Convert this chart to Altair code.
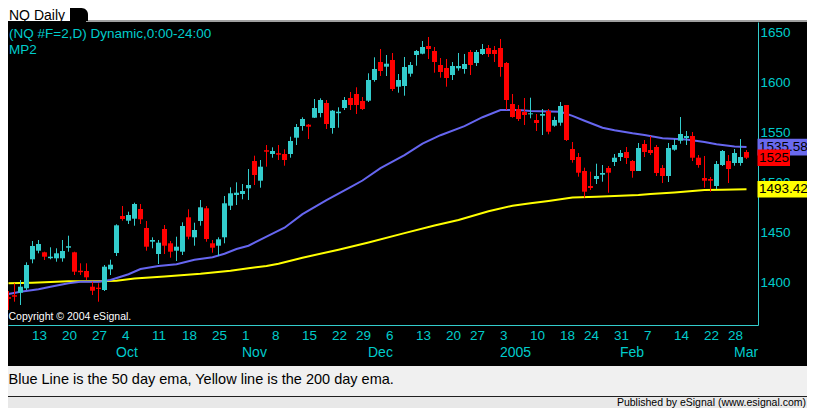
import altair as alt
import pandas as pd

FONT = "Liberation Sans"
CYAN_C = "#33cccc"   # up candles
CYAN_T = "#00cccc"   # axis / header text
RED = "#ff0000"
BLUE = "#6666f0"
YELLOW = "#ffff00"

# ---------------- data ----------------
HOLIDAYS = ["2004-09-06", "2004-11-25", "2004-12-24", "2005-01-17", "2005-02-21"]
_all = pd.bdate_range("2004-09-03", "2005-03-02")
trade_days = [d.strftime("%Y-%m-%d") for d in _all if d.strftime("%Y-%m-%d") not in HOLIDAYS]
day_index = {d: i for i, d in enumerate(trade_days)}

opens = [1385.5, 1387.5, 1390, 1394.4, 1423.4, 1432, 1430.4, 1424.5, 1424.4, 1424.4,
         1435, 1430.4, 1412, 1411.7, 1396, 1395, 1392.7, 1413.4, 1429.7, 1466.7,
         1462, 1464, 1473.7, 1454.7, 1441, 1428.7, 1453.7, 1439.4, 1432, 1431,
         1465.4, 1445.4, 1461.7, 1474.4, 1439.4, 1437, 1445.4, 1477, 1487.7, 1488.7,
         1494.4, 1521.7, 1502, 1532.5, 1528.7, 1529.5, 1528.7, 1528.7, 1545, 1556.7,
         1558, 1565, 1569.7, 1579.7, 1554.7, 1569.5, 1574.7, 1584.7, 1588.7, 1581.7,
         1582, 1602.7, 1620.7, 1616, 1622.7, 1596, 1596.7, 1609, 1627.7, 1629,
         1636.7, 1631.7, 1617.7, 1614.7, 1607.7, 1614.4, 1613.7, 1630.7, 1619.7, 1628.7,
         1634.7, 1632.7, 1634.7, 1619.7, 1578.7, 1573.7, 1570.7, 1568.4, 1562.7, 1567,
         1571.7, 1557, 1560, 1577.7, 1533.7, 1525.7, 1511.7, 1496.7, 1503.7, 1508,
         1514.7, 1520.7, 1525.7, 1530.7, 1521.7, 1511.7, 1538.7, 1532.7, 1535.7, 1514.7,
         1506.7, 1533, 1542, 1544.7, 1546.7, 1525, 1504.7, 1503.7, 1496.7, 1517.7,
         1521.7, 1519.7, 1519.7, 1530.7]
highs = [1391.7, 1399.4, 1402.7, 1420.4, 1441.7, 1442.7, 1431, 1435.4, 1434.4, 1442.7,
         1447, 1431, 1419.4, 1419.4, 1401, 1399.4, 1417.7, 1423, 1458.4, 1476.7,
         1471, 1480, 1478.7, 1461.7, 1445.4, 1442.7, 1457.7, 1441.7, 1446, 1460.4,
         1473.4, 1460, 1482.7, 1476.7, 1442.7, 1445.4, 1486.7, 1495.4, 1500.4, 1498.7,
         1513.7, 1527, 1522.7, 1537.7, 1535.4, 1537.7, 1533.4, 1546, 1558.7, 1565.4,
         1558.7, 1583.7, 1584.4, 1582.7, 1572.7, 1575.4, 1585.7, 1590.7, 1595.4, 1585.7,
         1609.4, 1625.4, 1633.7, 1627.7, 1629.7, 1608.7, 1625.7, 1620.7, 1632.7, 1641.7,
         1645.7, 1635.7, 1624.7, 1623.7, 1620.7, 1629.7, 1628.7, 1632.7, 1632.7, 1638.7,
         1637.7, 1636.7, 1643.7, 1620.7, 1588.7, 1577.7, 1584.7, 1585, 1568.7, 1573.7,
         1573.7, 1566, 1580.7, 1577.7, 1540.7, 1529.7, 1515, 1511, 1519, 1517.7,
         1516.7, 1528.7, 1532.7, 1535.7, 1522.7, 1539.7, 1542.7, 1546.7, 1537.7, 1517.7,
         1539.7, 1543.7, 1565.7, 1551.7, 1550.7, 1527.7, 1526.7, 1505.7, 1521.7, 1532.7,
         1527.7, 1533.7, 1543.7, 1532.7]
lows = [1372.7, 1381, 1377.7, 1392.7, 1419.4, 1429.4, 1422.7, 1423.4, 1421, 1421,
        1431, 1407.7, 1407.7, 1402.7, 1387.7, 1381, 1391.7, 1407.7, 1426.7, 1462,
        1458.7, 1457, 1458.7, 1432, 1434.4, 1418.7, 1428.7, 1425, 1421.7, 1427.7,
        1443.4, 1437, 1457, 1441, 1430, 1426.7, 1439.4, 1472.7, 1477.7, 1483.4,
        1482.7, 1497.7, 1495, 1516, 1525, 1522.7, 1517, 1525, 1537.7, 1552,
        1543.7, 1564.7, 1565.4, 1553.7, 1549, 1555, 1572.7, 1572.7, 1568.7, 1572.7,
        1580.7, 1601, 1606.7, 1606.7, 1591.7, 1590, 1587, 1606, 1617, 1628.4,
        1623.7, 1610, 1605, 1596, 1602.7, 1612, 1609, 1607.7, 1616.7, 1627.7,
        1625.7, 1620.7, 1606, 1572.7, 1565, 1561.7, 1557.7, 1564.4, 1551.7, 1547.7,
        1548.4, 1556, 1557, 1541.7, 1520, 1506, 1485, 1492.7, 1498.7, 1501,
        1490, 1516.7, 1521.7, 1518.7, 1505, 1511.7, 1525.7, 1527.7, 1506.7, 1499.7,
        1500.7, 1532, 1539, 1537.7, 1521.7, 1515, 1495, 1491, 1493.7, 1516.7,
        1499.7, 1517, 1517, 1523.7]
closes = [1384, 1386, 1396, 1417.7, 1436.7, 1438.7, 1426, 1426, 1429.4, 1431.7,
          1436.5, 1411, 1410.5, 1405.4, 1392, 1393.8, 1416, 1418, 1457.4, 1463.7,
          1467.7, 1478.7, 1463.4, 1436, 1442.7, 1440, 1437, 1431, 1436, 1456.7,
          1446, 1452.7, 1475.4, 1443.7, 1435, 1443.4, 1479.4, 1489.4, 1490, 1491.7,
          1497.7, 1507.7, 1516, 1531, 1531.7, 1528, 1522.7, 1541.7, 1555.7, 1563.7,
          1556, 1574.7, 1582.7, 1558.7, 1572, 1571, 1582.7, 1577.7, 1577.7, 1573.7,
          1602.7, 1613.7, 1611.7, 1619, 1593.7, 1602.7, 1615.7, 1617.7, 1631.7, 1635.7,
          1633.7, 1620.7, 1610.7, 1604.7, 1616.7, 1616.7, 1618.7, 1617.7, 1630.7, 1633.7,
          1628.7, 1628.7, 1615.7, 1582.7, 1565.7, 1563.7, 1567.7, 1569.4, 1559.7, 1568.7,
          1551, 1562.7, 1576.7, 1542.7, 1522.7, 1510, 1491, 1494.7, 1506.7, 1509.7,
          1510, 1525, 1529.7, 1524.7, 1511.7, 1534.7, 1530.7, 1529.7, 1509.7, 1506.7,
          1534.7, 1537.7, 1548.7, 1546.7, 1525, 1517.7, 1502, 1502, 1518.7, 1531.7,
          1513.7, 1529.7, 1525.7, 1525]

ema50_days = [0, 2, 5, 7, 10, 12, 15, 17, 20, 22, 25, 28, 31, 34, 36, 38, 40, 43, 46, 49,
              53, 57, 59, 62, 66, 69, 72, 76, 79, 82, 85, 87, 92, 94, 96, 99, 101, 104, 106, 109,
              113, 116, 118, 121, 123]
ema50_vals = [1388.7, 1391, 1393.5, 1396, 1399.5, 1401, 1401, 1402.7, 1408.5, 1413.7,
              1416.8, 1418.5, 1423, 1425.4, 1429, 1433.7, 1437, 1446, 1455, 1468.5,
              1482.5, 1495.5, 1502.2, 1514.5, 1527.5, 1539, 1547.5, 1556.5, 1565.5, 1572.7,
              1572.7, 1571.8, 1571, 1566.8, 1562, 1555, 1552.5, 1549.5, 1547.8, 1544.4,
              1543.2, 1540.8, 1538.4, 1536.3, 1535.58]
ema200_days = [0, 4, 10, 15, 18, 21, 26, 32, 37, 40, 43, 45, 49, 55, 60, 66, 71, 75, 80, 84,
               87, 90, 94, 98, 102, 105, 107, 111, 116, 119, 123]
ema200_vals = [1399.4, 1400, 1401.4, 1401.4, 1402, 1404.2, 1406.3, 1409, 1412, 1414.4,
               1416.8, 1419, 1425, 1433, 1440.2, 1449.6, 1457.2, 1462.7, 1471.5, 1477,
               1479.4, 1481.8, 1485.2, 1486, 1487, 1487.7, 1488.8, 1490.2, 1492.6, 1493,
               1493.42]

week_dates = ["2004-09-13", "2004-09-20", "2004-09-27", "2004-10-04", "2004-10-11",
              "2004-10-18", "2004-10-25", "2004-11-01", "2004-11-08", "2004-11-15",
              "2004-11-22", "2004-11-29", "2004-12-06", "2004-12-13", "2004-12-20",
              "2004-12-27", "2005-01-03", "2005-01-10", "2005-01-18", "2005-01-24",
              "2005-01-31", "2005-02-07", "2005-02-14", "2005-02-22", "2005-02-28"]
month_names = ["Oct", "Nov", "Dec", "2005", "Feb", "Mar"]
month_dates = ["2004-10-01", "2004-11-01", "2004-12-01", "2005-01-03", "2005-02-01", "2005-03-01"]
price_ticks = [1400, 1450, 1500, 1550, 1600, 1650]

# ---------------- frames ----------------
n = len(opens)
candles = pd.DataFrame({"idx": list(range(n)), "open": opens, "high": highs,
                        "low": lows, "close": closes})
candles["dir"] = ["up" if c >= o else "down" for o, c in zip(opens, closes)]
candles["x0"] = candles["idx"] - 2.5 / 6
candles["x1"] = candles["idx"] + 2.5 / 6

ema50 = pd.DataFrame({"day": ema50_days, "val": ema50_vals})
ema200 = pd.DataFrame({"day": ema200_days, "val": ema200_vals})
weeks = pd.DataFrame({"idx": [day_index[d] for d in week_dates],
                      "label": [str(int(d[8:])) for d in week_dates]})
months = pd.DataFrame({"idx": [day_index[d] for d in month_dates], "label": month_names})

W, H = 750, 303
xs = alt.Scale(domain=[-1 / 12, 125 - 1 / 12], nice=False, zero=False)
ys = alt.Scale(domain=[1357.7, 1660.7], nice=False, zero=False)
x_axis = alt.Axis(orient="bottom", labels=False, ticks=False, grid=False, title=None,
                  domainColor=CYAN_C, domainWidth=1)
y_axis = alt.Axis(orient="right", values=price_ticks, format="d", ticks=False, grid=False,
                  title=None, domainColor=CYAN_C, domainWidth=1, labelColor=CYAN_T,
                  labelFont=FONT, labelFontSize=13.5, labelPadding=2)
col = alt.Color("dir:N", scale=alt.Scale(domain=["up", "down"], range=[CYAN_C, RED]), legend=None)

one = pd.DataFrame({"a": [0]})

def box(x0, x1, y0, y1, color, **kw):
    return alt.Chart(one).mark_rect(color=color, **kw).encode(
        x=alt.value(x0), x2=alt.value(x1), y=alt.value(y0), y2=alt.value(y1))

def label(text, x, y, size, color, align="left", baseline="alphabetic"):
    return alt.Chart(one).mark_text(text=text, align=align, baseline=baseline, font=FONT,
                                    fontSize=size, color=color).encode(
        x=alt.value(x), y=alt.value(y))

# decorations
top_strip = box(0, 799, -14, -1, "#ffffff")
top_line = box(78, 799, -2, 0, "#a0a0a0")
tab = box(62, 80, -14, -1, "#000000", cornerRadiusTopRight=13)
tab_text = label("NQ Daily", 1, -2.5, 14, "#000000")
hdr1 = label("(NQ #F=2,D) Dynamic,0:00-24:00", 1, 16, 13.5, CYAN_T)
hdr2 = label("MP2", 1, 31.5, 13.5, CYAN_T)
copyright_t = label("Copyright \u00a9 2004 eSignal.", 0.5, 297.5, 10.5, "#ffffff")
band1 = box(0, 799, 344, 374, "#f0f0f0")
band_sep = box(0, 799, 374, 375, "#202020")
band2 = box(0, 799, 375, 386, "#e8e8e8")
note = label("Blue Line is the 50 day ema, Yellow line is the 200 day ema.", 0.5, 362, 14.5, "#000000")
pub = label("Published by eSignal (www.esignal.com)", 798, 383.5, 10.5, "#000000", align="right")

# series
l50 = alt.Chart(ema50).mark_line(color=BLUE, strokeWidth=2).encode(
    x=alt.X("day:Q", scale=xs, axis=x_axis), y=alt.Y("val:Q", scale=ys, axis=y_axis))
l200 = alt.Chart(ema200).mark_line(color=YELLOW, strokeWidth=2).encode(
    x=alt.X("day:Q", scale=xs, axis=x_axis), y=alt.Y("val:Q", scale=ys, axis=y_axis))
wicks = alt.Chart(candles).mark_rule(strokeWidth=1).encode(
    x=alt.X("idx:Q", scale=xs, axis=x_axis), y=alt.Y("low:Q", scale=ys, axis=y_axis),
    y2="high:Q", color=col)
bodies = alt.Chart(candles).mark_rect().encode(
    x=alt.X("x0:Q", scale=xs, axis=x_axis), x2="x1:Q",
    y=alt.Y("open:Q", scale=ys, axis=y_axis), y2="close:Q", color=col)

day_lbl = alt.Chart(weeks).mark_text(align="left", baseline="alphabetic", dx=-6.5, font=FONT,
                                     fontSize=13.5, color=CYAN_T).encode(
    x=alt.X("idx:Q", scale=xs, axis=x_axis), y=alt.value(318), text="label:N")
mon_lbl = alt.Chart(months).mark_text(align="left", baseline="alphabetic", dx=-6.5, font=FONT,
                                      fontSize=14, color=CYAN_T).encode(
    x=alt.X("idx:Q", scale=xs, axis=x_axis), y=alt.value(334.7), text="label:N")

# last-value boxes
def value_box(value, text, fill, x_end):
    d = pd.DataFrame({"value": [value], "text": [text]})
    base = alt.Chart(d).transform_calculate(top="datum.value + 8.3", bot="datum.value - 8.3")
    r = base.mark_rect(color=fill).encode(
        x=alt.value(749.5), x2=alt.value(x_end),
        y=alt.Y("top:Q", scale=ys, axis=y_axis), y2="bot:Q")
    t = base.mark_text(align="left", baseline="middle", font=FONT, fontSize=13.5,
                       color="#000000").encode(
        x=alt.value(751), y=alt.Y("value:Q", scale=ys, axis=y_axis), text="text:N")
    return [r, t]

vb = (value_box(ema50_vals[-1], f"{ema50_vals[-1]:.2f}", "#6a6aee", 799)
      + value_box(closes[-1], f"{closes[-1]:g}", RED, 782)
      + value_box(ema200_vals[-1], f"{ema200_vals[-1]:.2f}", YELLOW, 799))

chart = alt.layer(
    top_strip, top_line, tab, tab_text, hdr1, hdr2, copyright_t,
    band1, band_sep, band2, note, pub,
    l200, l50, wicks, bodies, day_lbl, mon_lbl, *vb
).properties(
    width=W, height=H,
    padding={"left": 0, "top": 14, "right": 49, "bottom": 83},
    autosize=alt.AutoSizeParams(type="none"),
    background="#000000",
).configure_view(strokeWidth=0)

chart.save("out.html", embed_options={"renderer": "svg", "actions": False})
